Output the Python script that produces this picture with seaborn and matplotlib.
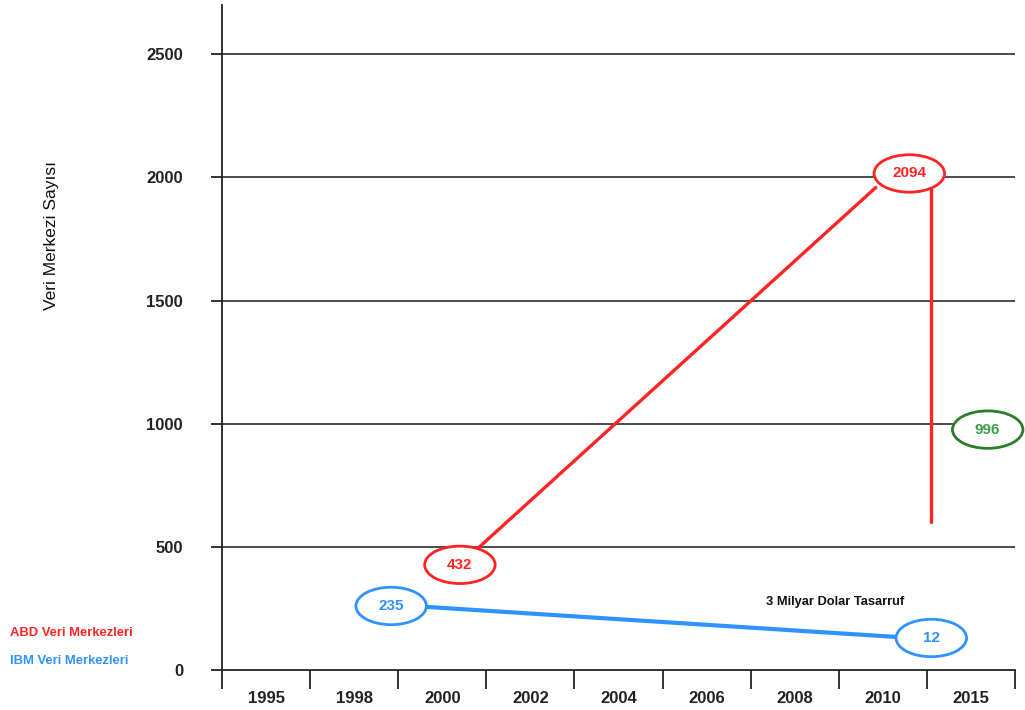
import matplotlib
matplotlib.use("Agg")
import matplotlib.pyplot as plt
from matplotlib.patches import Ellipse
import pandas as pd
import seaborn as sns

# categories on the x axis
years = ["1995", "1998", "2000", "2002", "2004", "2006", "2008", "2010", "2015"]

# line segments (x in category units, y in data units)
abd_rise_x = [2.41, 6.92]
abd_rise_y = [496, 1959]
abd_drop_x = [7.55, 7.55]
abd_drop_y = [1951, 602]
ibm_x = [1.83, 7.16]
ibm_y = [256, 134]

# bubble labels
bubble_text = ["432", "2094", "996", "235", "12"]
bubble_x = [2.20, 7.30, 8.19, 1.42, 7.55]
bubble_y = [427, 2016, 976, 260, 130]
bubble_kind = ["abd", "abd", "saving", "ibm", "ibm"]

RED = "#ff2424"
BLUE = "#2f93ff"
GREEN_EDGE = "#2a7d2a"
GREEN_TEXT = "#3a9e4a"
edge_col = {"abd": RED, "ibm": BLUE, "saving": GREEN_EDGE}
text_col = {"abd": RED, "ibm": BLUE, "saving": GREEN_TEXT}

sns.set_theme(style="white")
plt.rcParams["font.family"] = ["Liberation Sans", "DejaVu Sans"]

df = pd.concat([
    pd.DataFrame({"x": abd_rise_x, "y": abd_rise_y, "seri": "abd", "parca": "rise"}),
    pd.DataFrame({"x": abd_drop_x, "y": abd_drop_y, "seri": "abd", "parca": "drop"}),
    pd.DataFrame({"x": ibm_x, "y": ibm_y, "seri": "ibm", "parca": "ibm"}),
], ignore_index=True)

fig = plt.figure(figsize=(10.25, 7.1), dpi=100)
ax = fig.add_axes([222 / 1025, 1 - 670 / 710, (1015 - 222) / 1025, (670 - 5) / 710])

for y in [500, 1000, 1500, 2000, 2500]:
    ax.axhline(y, color="#4a4a4a", lw=1.4, zorder=1)

ibm = df[df["seri"] == "ibm"]
sns.lineplot(data=ibm, x="x", y="y", color=BLUE, lw=3.0, sort=False,
             estimator=None, ax=ax, legend=False, zorder=3)
abd = df[df["seri"] == "abd"]
sns.lineplot(data=abd, x="x", y="y", units="parca", color=RED, lw=2.4, sort=False,
             estimator=None, ax=ax, legend=False, zorder=3)

for t, bx, by, k in zip(bubble_text, bubble_x, bubble_y, bubble_kind):
    ax.add_patch(Ellipse((bx, by), 0.8, 152, facecolor="white", edgecolor=edge_col[k],
                         lw=2.0, zorder=4, clip_on=False))
    ax.text(bx, by, t, color=text_col[k], ha="center", va="center", fontsize=11,
            fontweight="bold", zorder=5)

ax.text(6.46, 276, "3 Milyar Dolar Tasarruf", ha="center", va="center",
        fontsize=9.3, fontweight="bold", color="#111111")

ax.set_xlim(-0.5, 8.5)
ax.set_ylim(0, 2700)
ax.set_xticks(range(len(years)))
ax.set_xticklabels(years)
ax.set_xticks([i - 0.5 for i in range(len(years) + 1)], minor=True)
ax.set_yticks([0, 500, 1000, 1500, 2000, 2500])
ax.tick_params(axis="x", which="major", length=0, pad=15, labelsize=12, labelcolor="#222222")
ax.tick_params(axis="x", which="minor", length=14, width=1.3, color="#222222", direction="out",
               bottom=True)
ax.tick_params(axis="y", length=8, width=1.3, color="#222222", pad=20, labelsize=12,
               labelcolor="#222222", left=True)
for lab in ax.get_xticklabels() + ax.get_yticklabels():
    lab.set_fontweight("bold")
ax.set_xlabel("")
ax.set_ylabel("")

for side in ["top", "right"]:
    ax.spines[side].set_visible(False)
for side in ["left", "bottom"]:
    ax.spines[side].set_color("#222222")
    ax.spines[side].set_linewidth(1.3)

fig.text(52 / 1025, 1 - 236 / 710, "Veri Merkezi Sayısı", rotation=90, ha="center",
         va="center", fontsize=12.5, color="#111111")
fig.text(10 / 1025, 1 - 633 / 710, "ABD Veri Merkezleri", color=RED, fontsize=9.4,
         fontweight="bold", va="center")
fig.text(10 / 1025, 1 - 661 / 710, "IBM Veri Merkezleri", color=BLUE, fontsize=9.4,
         fontweight="bold", va="center")

fig.savefig("out.png", dpi=100)
